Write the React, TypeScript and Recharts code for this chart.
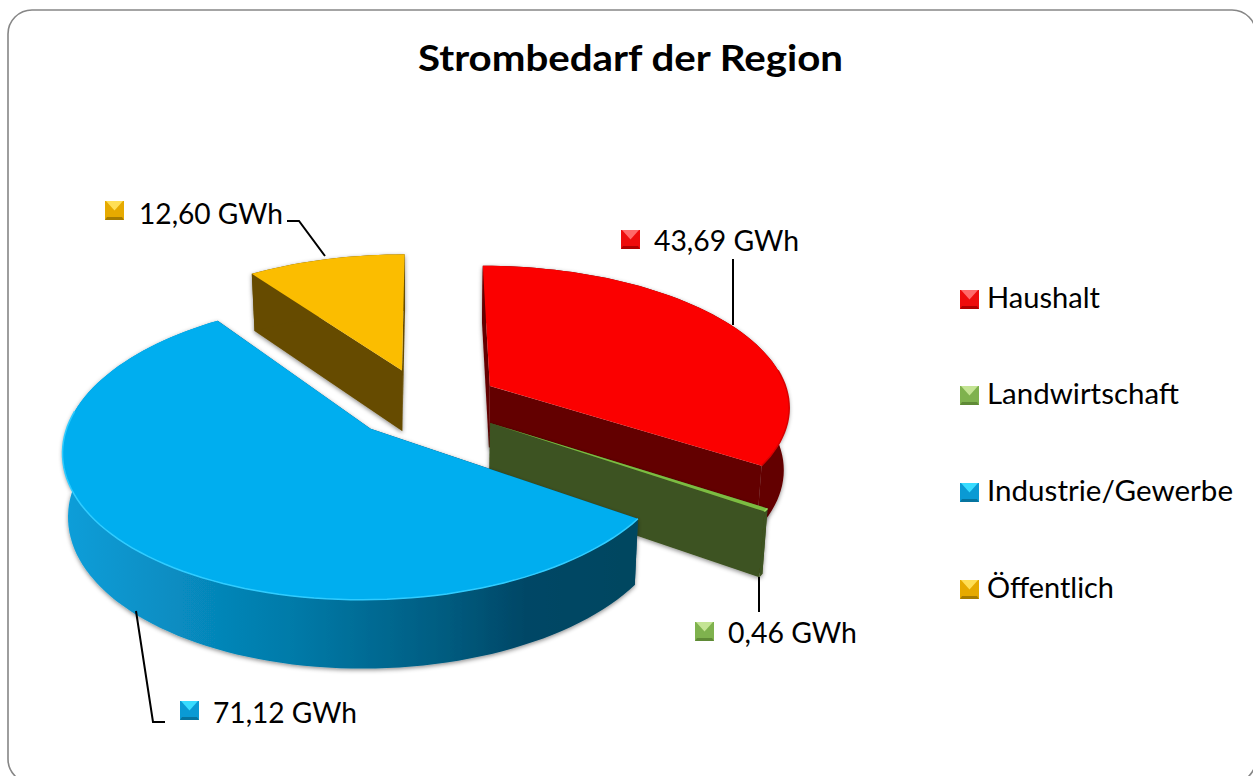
import React from "react";
import { PieChart, Pie, Legend } from "recharts";

const categories = ["Haushalt", "Landwirtschaft", "Industrie/Gewerbe", "Öffentlich"];
const values = [43.69, 0.46, 71.12, 12.6];
const unit = "GWh";
const topColors = ["#fb0000", "#7cbc42", "#00aeef", "#fbbd00"];
const wallColors = ["#640000", "#3e5220", "url(#blueWall)", "#664c00"];
const edgeColors = ["#d80000", "#9ad85e", "#30ccff", "#fbc820"];
const explode = [0.23, 0.24, 0.27, 0.26];
const scaleX = [1, 0.985, 0.987, 1];
const nudge = [
  [0, 0],
  [0, 3],
  [-2, 0],
  [-5, 3],
];
const iconColors = [
  { light: "#ff6a6a", body: "#ee0c0c", dark: "#b00000" },
  { light: "#c4e494", body: "#7fb24e", dark: "#5f8a36" },
  { light: "#38dcff", body: "#0a9ad4", dark: "#06749f" },
  { light: "#ffdf55", body: "#e6aa00", dark: "#a67c00" },
];

const W = 1253;
const H = 776;
const FONT = "Lato, Carlito, Calibri, sans-serif";
const CX = 430;
const CY = 401;
const RX = 300;
const SQUASH = 140 / 300;
const PERSP = 0.134;
const SHRINK = 0.985;

const data = categories.map((name, i) => ({ name, value: values[i], fill: topColors[i] }));

// label layout per slice
const labelLayout = [
  { icon: [621, 230], text: [654, 251], width: 145, line: "M733 259 L733 325" },
  { icon: [695, 622], text: [728, 643], width: 129, line: "M759 577 L759 612" },
  { icon: [180, 701], text: [213, 723], width: 144, line: "M136 611 L153 722 L165 722" },
  { icon: [105, 201], text: [139, 224], width: 144, line: "M287 221 L299 221 L325 256" },
];
const legendLayout = [
  { y: 290, width: 113 },
  { y: 386, width: 192 },
  { y: 483, width: 246 },
  { y: 580, width: 127 },
];

function Icon({ x, y, c }: { x: number; y: number; c: { light: string; body: string; dark: string } }) {
  const s = 19;
  return (
    <g>
      <rect x={x} y={y} width={s} height={s} fill={c.body} />
      <polygon points={`${x + 1},${y} ${x + s - 1},${y} ${x + s / 2},${y + s * 0.5}`} fill={c.light} />
      <polygon points={`${x},${y + s} ${x + s},${y + s} ${x + s - 2},${y + s - 3} ${x + 2},${y + s - 3}`} fill={c.dark} />
    </g>
  );
}

function project(index: number, ex: number, ey: number, theta: number, r: number, cx: number, cy: number, outer: number) {
  const X = ex + r * Math.sin(theta);
  const Y = ey + r * Math.cos(theta);
  const w = 1 + PERSP * Y;
  return {
    x: cx + (outer * scaleX[index] * X) / w + nudge[index][0],
    y: cy - (outer * SQUASH * Y) / w + nudge[index][1],
    w,
    front: r > 0 && Math.cos(theta) < 0.15,
  };
}

function down(p: { x: number; y: number; w: number }, cx: number) {
  return { x: cx + (p.x - cx) * SHRINK, y: p.y + 62 / Math.pow(p.w, 0.6) };
}

const toPath = (pts: { x: number; y: number }[], close = true) =>
  pts.map((p, i) => `${i ? "L" : "M"}${p.x.toFixed(1)} ${p.y.toFixed(1)}`).join(" ") + (close ? " Z" : "");

function Slice(props: any) {
  const { cx, cy, outerRadius, startAngle, endAngle, index } = props;
  const t0 = ((90 - startAngle) * Math.PI) / 180;
  const t1 = ((90 - endAngle) * Math.PI) / 180;
  const mid = (t0 + t1) / 2;
  const e = explode[index];
  const ex = e * Math.sin(mid);
  const ey = e * Math.cos(mid);
  const steps = Math.max(2, Math.ceil(((t1 - t0) * 180) / Math.PI / 2));
  const arc = Array.from({ length: steps + 1 }, (_, i) =>
    project(index, ex, ey, t0 + ((t1 - t0) * i) / steps, 1, cx, cy, outerRadius)
  );
  const apex = project(index, ex, ey, 0, 0, cx, cy, outerRadius);
  const arcDown = arc.map((p) => down(p, cx));
  const apexDown = down(apex, cx);
  const wall = wallColors[index];
  const radialFill = index === 2 ? "#004766" : wall;
  const frontArc = arc.filter((p) => p.front);
  return (
    <g>
      <g filter="url(#wallShadow)">
        <path d={toPath([apex, arc[0], arcDown[0], apexDown])} fill={radialFill} />
        <path d={toPath([apex, arc[arc.length - 1], arcDown[arcDown.length - 1], apexDown])} fill={radialFill} />
        <path d={toPath([...arc, ...[...arcDown].reverse()])} fill={wall} />
      </g>
      <path d={toPath([apex, ...arc])} fill={topColors[index]} />
      {frontArc.length > 1 && (
        <path d={toPath(frontArc, false)} fill="none" stroke={edgeColors[index]} strokeWidth={1.5} />
      )}
    </g>
  );
}

function renderLabel(props: any) {
  const { index, value } = props;
  const l = labelLayout[index];
  const text = `${Number(value).toFixed(2).replace(".", ",")} ${unit}`;
  return (
    <g key={index}>
      <path d={l.line} fill="none" stroke="#000" strokeWidth={2} />
      <Icon x={l.icon[0]} y={l.icon[1]} c={iconColors[index]} />
      <text x={l.text[0]} y={l.text[1]} fontFamily={FONT} fontSize={28} fill="#000" textLength={l.width} lengthAdjust="spacingAndGlyphs">
        {text}
      </text>
    </g>
  );
}

function LegendContent() {
  return (
    <svg width={W} height={H} style={{ position: "absolute", left: 0, top: 0, pointerEvents: "none" }}>
      {categories.map((name, i) => (
        <g key={name}>
          <Icon x={960} y={legendLayout[i].y} c={iconColors[i]} />
          <text x={987} y={legendLayout[i].y + 18} fontFamily={FONT} fontSize={28} fill="#000" textLength={legendLayout[i].width} lengthAdjust="spacingAndGlyphs">
            {name}
          </text>
        </g>
      ))}
    </svg>
  );
}

export default function App() {
  return (
    <div style={{ position: "absolute", left: 0, top: 0, width: W, height: H, overflow: "hidden", background: "#fff" }}>
      <PieChart width={W} height={H} margin={{ top: 0, right: 0, bottom: 0, left: 0 }}>
        <defs>
          <linearGradient id="blueWall" gradientUnits="userSpaceOnUse" x1={65} y1={0} x2={640} y2={0}>
            <stop offset="0" stopColor="#0a9ed9" />
            <stop offset="0.4" stopColor="#047aa8" />
            <stop offset="0.66" stopColor="#005c80" />
            <stop offset="0.8" stopColor="#004766" />
            <stop offset="1" stopColor="#004660" />
          </linearGradient>
          <filter id="wallShadow" x="-10%" y="-10%" width="120%" height="120%">
            <feDropShadow dx={0} dy={1.5} stdDeviation={2} floodColor="#000" floodOpacity={0.45} />
          </filter>
        </defs>
        <rect x={8} y={10} width={1248} height={773} rx={24} ry={24} fill="#fff" stroke="#868686" strokeWidth={1.6} />
        <text x={418} y={71} fontFamily={FONT} fontSize={37} fontWeight={700} fill="#000" textLength={425} lengthAdjust="spacingAndGlyphs">
          Strombedarf der Region
        </text>
        <Pie
          data={data}
          dataKey="value"
          nameKey="name"
          cx={CX}
          cy={CY}
          outerRadius={RX}
          innerRadius={0}
          startAngle={90}
          endAngle={-270}
          stroke="none"
          shape={Slice}
          label={renderLabel}
          labelLine={false}
          isAnimationActive={false}
        />
        <Legend content={LegendContent} wrapperStyle={{ position: "absolute", left: 0, top: 0, width: W, height: H, pointerEvents: "none" }} />
      </PieChart>
    </div>
  );
}
